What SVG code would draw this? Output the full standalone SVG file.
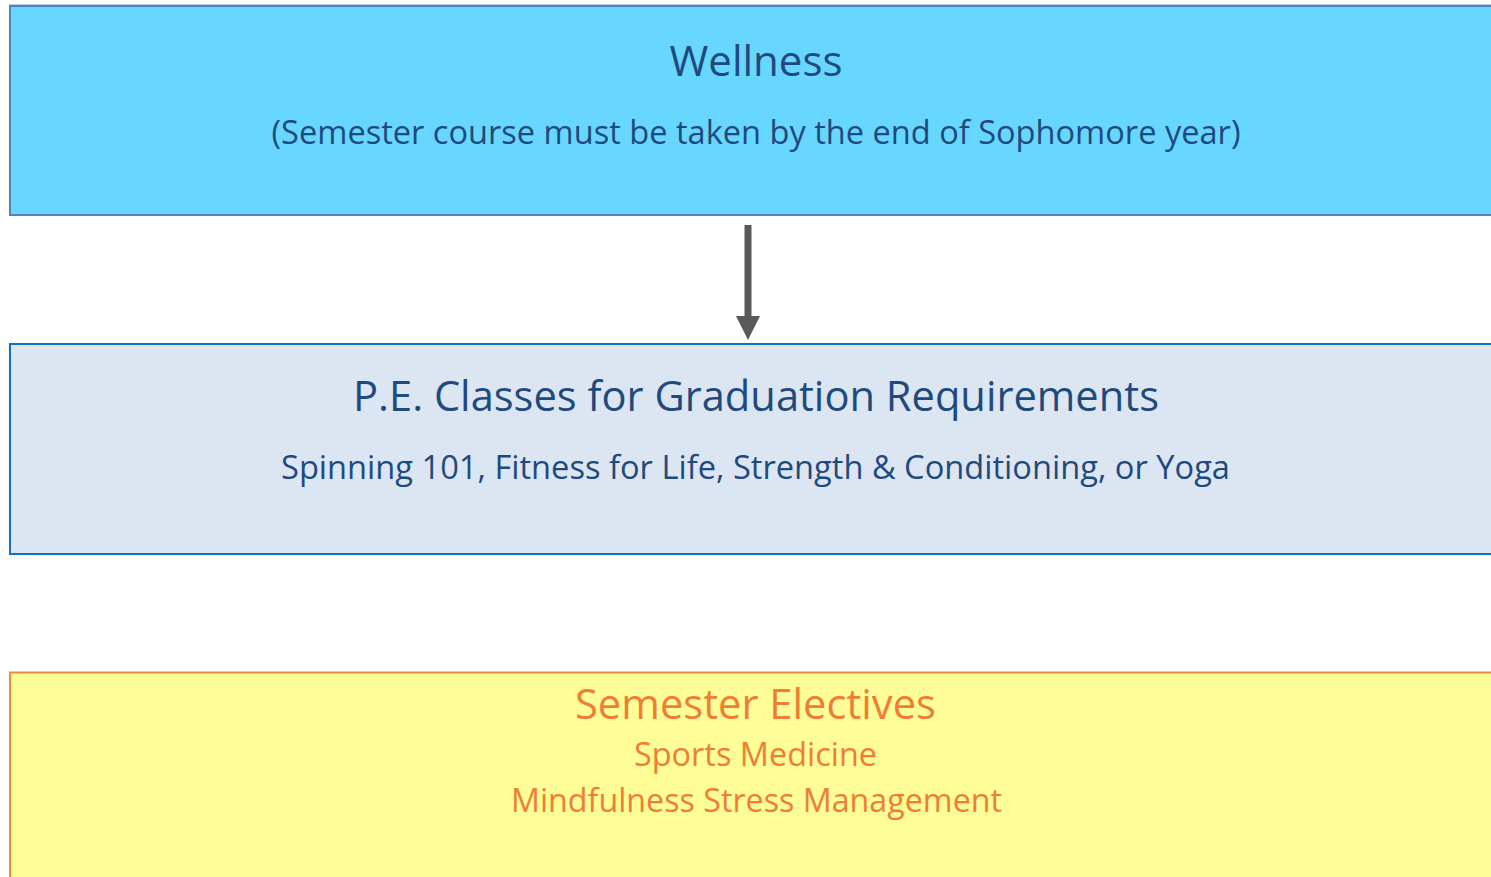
<svg xmlns="http://www.w3.org/2000/svg" width="1491" height="877" viewBox="0 0 1491 877">
<style>
.t{font-family:"Open Sans","Noto Sans","Liberation Sans",sans-serif;text-anchor:middle}
.blue{fill:#1f4a7e}
.orange{fill:#f07d33}
</style>
<rect width="1491" height="877" fill="#ffffff"/>
<g id="wellness">
<line x1="9" y1="4.5" x2="1491" y2="4.5" stroke="#b8cce8" stroke-width="1"/>
<rect x="10" y="6" width="1500" height="209" fill="#68d7ff" stroke="#4f81c4" stroke-width="2"/>
<text class="t blue" x="756" y="76" font-size="42" textLength="173" lengthAdjust="spacingAndGlyphs">Wellness</text>
<text class="t blue" x="756" y="144" font-size="32" textLength="969" lengthAdjust="spacingAndGlyphs">(Semester course must be taken by the end of Sophomore year)</text>
</g>
<g id="pe">
<rect x="10" y="344" width="1500" height="210" fill="#dce6f2" stroke="#1270c4" stroke-width="2"/>
<text class="t blue" x="756" y="411" font-size="42" textLength="806" lengthAdjust="spacingAndGlyphs">P.E. Classes for Graduation Requirements</text>
<text class="t blue" x="755.5" y="479" font-size="32" textLength="949" lengthAdjust="spacingAndGlyphs">Spinning 101, Fitness for Life, Strength &amp; Conditioning, or Yoga</text>
</g>
<g id="electives">
<rect x="10" y="672.5" width="1500" height="220" fill="#fefd98" stroke="#f28a3e" stroke-width="2"/>
<text class="t orange" x="755.5" y="719" font-size="42" textLength="361" lengthAdjust="spacingAndGlyphs">Semester Electives</text>
<text class="t orange" x="755.5" y="766" font-size="33" textLength="243" lengthAdjust="spacingAndGlyphs">Sports Medicine</text>
<text class="t orange" x="756.5" y="812" font-size="33" textLength="491" lengthAdjust="spacingAndGlyphs">Mindfulness Stress Management</text>
</g>
<g id="connectors">
<rect x="744.5" y="225" width="7" height="93" fill="#595959"/>
<polygon points="736,316 760,316 748,340" fill="#595959"/>
</g>
</svg>
